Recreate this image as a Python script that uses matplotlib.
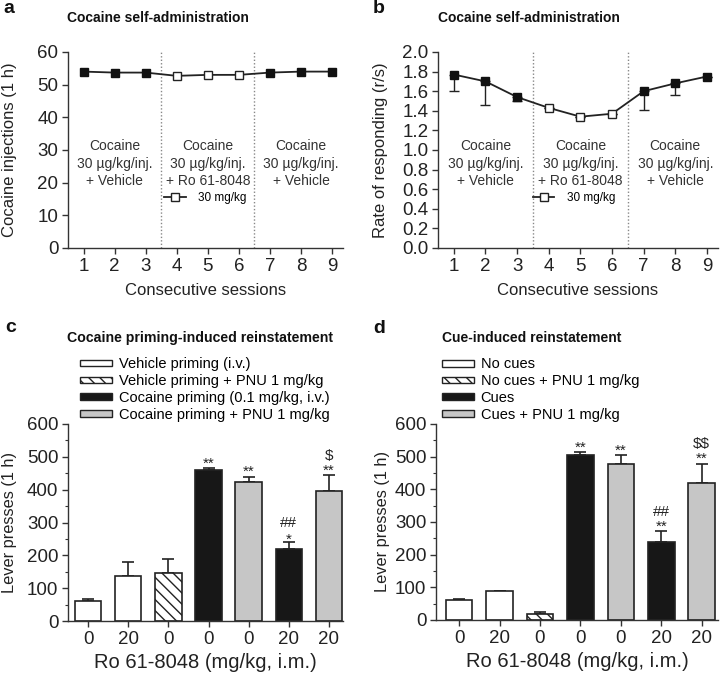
import matplotlib
matplotlib.use("Agg")
import matplotlib.pyplot as plt
from matplotlib.patches import Patch
from matplotlib.lines import Line2D
import numpy as np

plt.rcParams['font.family'] = ['Liberation Sans', 'DejaVu Sans']
plt.rcParams['hatch.linewidth'] = 1.0
plt.rcParams['text.parse_math'] = False

# ---------------- data ----------------
sessions = [1, 2, 3, 4, 5, 6, 7, 8, 9]
injections = [54.0, 53.7, 53.7, 52.7, 53.0, 53.0, 53.7, 54.0, 54.0]
rate = [1.77, 1.70, 1.54, 1.43, 1.34, 1.37, 1.60, 1.68, 1.75]
rate_err_low = [0.17, 0.24, 0.04, 0.0, 0.0, 0.0, 0.19, 0.12, 0.0]
drug_sessions = [4, 5, 6]

phase_text = ["Cocaine\n30 µg/kg/inj.\n+ Vehicle",
              "Cocaine\n30 µg/kg/inj.\n+ Ro 61-8048",
              "Cocaine\n30 µg/kg/inj.\n+ Vehicle"]
phase_x = [2, 5, 8]

bar_ticklabels = ["0", "20", "0", "0", "0", "20", "20"]
bar_styles = ["white", "white", "hatch", "black", "gray", "black", "gray"]

c_values = [62, 137, 147, 460, 424, 220, 397]
c_err = [4, 43, 43, 5, 16, 20, 47]
c_marks_low = ["", "", "", "**", "**", "*", "**"]
c_marks_up = ["", "", "", "", "", "##", "$"]
c_legend = ["Vehicle priming (i.v.)", "Vehicle priming + PNU 1 mg/kg",
            "Cocaine priming (0.1 mg/kg, i.v.)", "Cocaine priming + PNU 1 mg/kg"]

d_values = [61, 90, 19, 505, 477, 240, 420]
d_err = [2, 0, 6, 8, 27, 31, 58]
d_marks_low = ["", "", "", "**", "**", "**", "**"]
d_marks_up = ["", "", "", "", "", "##", "$$"]
d_legend = ["No cues", "No cues + PNU 1 mg/kg", "Cues", "Cues + PNU 1 mg/kg"]

# ---------------- styling ----------------
W, H = 721, 673
fig = plt.figure(figsize=(W / 100, H / 100), dpi=100)

def ax_rect(l, r, t, b):
    return [l / W, 1 - b / H, (r - l) / W, (b - t) / H]

EDGE = '#222222'
SPINE = '#333333'
TXT = '#222222'
FILL = {"white": "white", "hatch": "white", "black": "#171717", "gray": "#c6c6c6"}
HATCH = {"white": None, "hatch": "\\\\\\", "black": None, "gray": None}
TICK_FS = 13.5
TITLE_FS = 10

def style_axes(ax):
    for s in ['top', 'right']:
        ax.spines[s].set_visible(False)
    for s in ['left', 'bottom']:
        ax.spines[s].set_color(SPINE)
        ax.spines[s].set_linewidth(1.0)
    ax.tick_params(direction='out', length=4, width=1.0, color=SPINE,
                   labelsize=TICK_FS, labelcolor=TXT, pad=3)
    ax.tick_params(which='minor', direction='out', length=2.5, width=0.8, color=SPINE)

def line_panel(ax, yvals, ylow, ylim, yticks, ylabel, fmt, ylab_x, leg_x):
    style_axes(ax)
    ax.set_xlim(0.5, 9.35)
    ax.set_ylim(*ylim)
    ax.set_yticks(yticks)
    ax.set_yticklabels([fmt.format(v) for v in yticks])
    ax.set_xticks(sessions)
    for xv in [3.5, 6.5]:
        ax.axvline(xv, color='#888888', linestyle=(0, (1, 1.5)), linewidth=1.0, zorder=1)
    if ylow is not None:
        ax.errorbar(sessions, yvals, yerr=[ylow, [0] * len(sessions)], fmt='none',
                    ecolor=EDGE, elinewidth=1.0, capsize=3.5, capthick=1.0, zorder=2)
    ax.plot(sessions, yvals, color=EDGE, linewidth=1.3, zorder=3)
    filled = [i for i, s in enumerate(sessions) if s not in drug_sessions]
    opened = [i for i, s in enumerate(sessions) if s in drug_sessions]
    ax.plot([sessions[i] for i in filled], [yvals[i] for i in filled], 's', ms=6,
            mfc='#111111', mec='#111111', mew=1.0, linestyle='none', zorder=4)
    ax.plot([sessions[i] for i in opened], [yvals[i] for i in opened], 's', ms=6,
            mfc='white', mec=EDGE, mew=1.0, linestyle='none', zorder=4)
    ymid = ylim[0] + (ylim[1] - ylim[0]) * 0.43
    for xt, txt in zip(phase_x, phase_text):
        ax.text(xt, ymid, txt, ha='center', va='center', fontsize=10,
                color='#333333', linespacing=1.3)
    h = Line2D([], [], color=EDGE, marker='s', ms=6, mfc='white', mec=EDGE, lw=1.3)
    ax.legend(handles=[h], labels=["30 mg/kg"], loc='center left',
              bbox_to_anchor=(leg_x, 0.255), frameon=False, fontsize=8.5,
              handlelength=1.8, handletextpad=1.1, borderpad=0, borderaxespad=0)
    ax.set_xlabel("Consecutive sessions", fontsize=12, color=TXT, labelpad=6)
    ax.set_ylabel(ylabel, fontsize=12, color=TXT)
    ax.yaxis.set_label_coords(ylab_x, 0.5)

def bar_panel(ax, values, errs, marks_low, marks_up, legend_labels, xlim,
              leg_x, leg_fs, ylab_x):
    style_axes(ax)
    x = np.arange(len(values))
    for xi, v, st in zip(x, values, bar_styles):
        ax.bar(xi, v, width=0.66, color=FILL[st], edgecolor=EDGE, linewidth=1.2,
               hatch=HATCH[st], zorder=2)
    ax.errorbar(x, values, yerr=[[0] * len(values), errs], fmt='none', ecolor=EDGE,
                elinewidth=1.2, capsize=4, capthick=1.2, zorder=1)
    for xi, v, e, lo, up in zip(x, values, errs, marks_low, marks_up):
        if lo:
            dy = -3 if lo == "*" else -1.5
            ax.annotate(lo, (xi, v + e), xytext=(0, dy), textcoords='offset points',
                        ha='center', va='bottom', fontsize=11, color=TXT)
        if up:
            ax.annotate(up, (xi, v + e), xytext=(0, 9), textcoords='offset points',
                        ha='center', va='bottom', fontsize=11, color=TXT)
    ax.set_xlim(*xlim)
    ax.set_ylim(0, 600)
    ax.set_yticks(range(0, 601, 100))
    ax.set_yticks(range(0, 601, 50), minor=True)
    ax.set_xticks(x)
    ax.set_xticklabels(bar_ticklabels)
    ax.set_xlabel("Ro 61-8048 (mg/kg, i.m.)", fontsize=14.5, color=TXT, labelpad=4)
    ax.set_ylabel("Lever presses (1 h)", fontsize=11.8, color=TXT)
    ax.yaxis.set_label_coords(ylab_x, 0.5)
    handles = [Patch(facecolor=FILL[st], edgecolor=EDGE, hatch=HATCH[st], linewidth=1.0)
               for st in ["white", "hatch", "black", "gray"]]
    ax.legend(handles=handles, labels=legend_labels, loc='lower left',
              bbox_to_anchor=(leg_x, 1.01), frameon=False, fontsize=leg_fs,
              handlelength=2.2, handleheight=0.35, handletextpad=0.45,
              labelspacing=0.2, borderpad=0, borderaxespad=0)

# panel a
axa = fig.add_axes(ax_rect(68, 343, 52, 248))
line_panel(axa, injections, None, (0, 60), list(range(0, 61, 10)),
           "Cocaine injections (1 h)", "{:.0f}", -0.185, 0.35)
# panel b
axb = fig.add_axes(ax_rect(438, 718, 52, 248))
line_panel(axb, rate, rate_err_low, (0, 2.0), [round(0.2 * i, 1) for i in range(11)],
           "Rate of responding (r/s)", "{:.1f}", -0.179, 0.34)
# panel c
axc = fig.add_axes(ax_rect(68, 343, 424, 621))
bar_panel(axc, c_values, c_err, c_marks_low, c_marks_up, c_legend, (-0.5, 6.35),
          0.044, 10.5, -0.185)
# panel d
axd = fig.add_axes(ax_rect(436, 718, 424, 620))
bar_panel(axd, d_values, d_err, d_marks_low, d_marks_up, d_legend, (-0.57, 6.4),
          0.021, 10.5, -0.163)

# titles and panel letters
fig.text(67 / W, 1 - 18 / H, "Cocaine self-administration", fontsize=TITLE_FS,
         fontweight='bold', va='center', ha='left', color='#111111')
fig.text(438 / W, 1 - 18 / H, "Cocaine self-administration", fontsize=TITLE_FS,
         fontweight='bold', va='center', ha='left', color='#111111')
fig.text(67 / W, 1 - 338 / H, "Cocaine priming-induced reinstatement", fontsize=10.2,
         fontweight='bold', va='center', ha='left', color='#111111')
fig.text(442 / W, 1 - 338 / H, "Cue-induced reinstatement", fontsize=TITLE_FS,
         fontweight='bold', va='center', ha='left', color='#111111')
for lx, ly, lt in [(3, 13, "a"), (373, 13, "b"), (5, 332, "c"), (373, 333, "d")]:
    fig.text(lx / W, 1 - ly / H, lt, fontsize=14, fontweight='bold', va='baseline',
             ha='left', color='#111111')

fig.savefig("out.png", dpi=100)
